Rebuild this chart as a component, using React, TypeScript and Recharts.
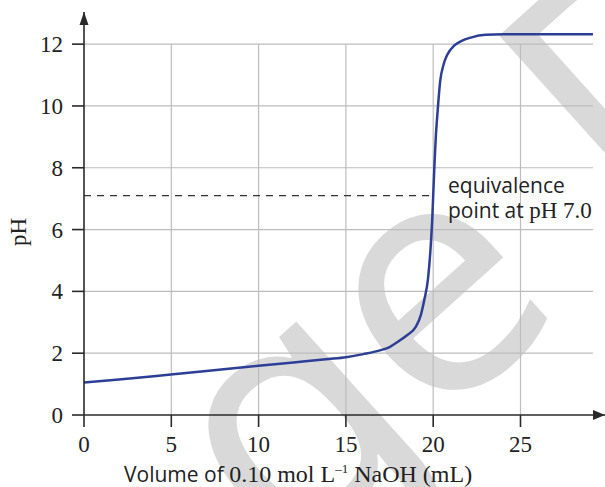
import React from 'react';
import { LineChart, Line, XAxis, YAxis, ReferenceLine, ReferenceDot } from 'recharts';

// titration curve
const volumes = [0, 2, 4, 6, 8, 10, 12, 14, 15, 16, 17, 17.5, 18, 18.5, 19, 19.3, 19.5, 19.7, 19.85, 19.95, 20, 20.08, 20.15, 20.25, 20.4, 20.6, 20.8, 21.2, 21.6, 22.2, 23, 24, 29.15];
const phValues = [1.05, 1.15, 1.25, 1.37, 1.48, 1.59, 1.7, 1.81, 1.87, 1.97, 2.1, 2.2, 2.38, 2.58, 2.85, 3.25, 3.75, 4.4, 5.4, 6.4, 7.1, 8.2, 9.0, 9.8, 10.8, 11.35, 11.65, 11.95, 12.1, 12.22, 12.3, 12.32, 12.32];

const xTicks = [0, 5, 10, 15, 20, 25];
const yTicks = [0, 2, 4, 6, 8, 10, 12];
const gridX = [5, 10, 15, 20, 25];
const gridY = [2, 4, 6, 8, 10, 12];
const equivalence = { volume: 20, ph: 7.1 };

const data = volumes.map((v, i) => ({ vol: v, ph: phValues[i] }));

const W = 605;
const H = 487;
const X_MAX = 29.84;
const Y_MAX = 13.04;
const GRID_END = 29.15;

const AXIS = '#2a2a2a';
const GRID = '#bdbdbd';
const SERIF = '"Liberation Serif", "Times New Roman", serif';
const SANS = '"Open Sans", "Noto Sans", sans-serif';

// watermark letters: [glyph, x, y, anchor]
const watermark: [string, number, number, string][] = [
  ['g', 360, 502, 'middle'],
  ['e', 502, 370, 'middle'],
  ['D', 633, 232, 'start'],
];

const XTick = (props: any) => {
  const { x, payload } = props;
  return (
    <text x={x} y={452} textAnchor="middle" fontFamily={SERIF} fontSize={23} fill="#222">
      {payload.value}
    </text>
  );
};

const YTick = (props: any) => {
  const { y, payload } = props;
  return (
    <text x={63} y={y + 8} textAnchor="end" fontFamily={SERIF} fontSize={23} fill="#222">
      {payload.value}
    </text>
  );
};

const RightArrow = (props: any) => {
  const { cx, cy } = props;
  return <path d={`M${cx},${cy} L${cx - 12},${cy - 5} L${cx - 12},${cy + 5} Z`} fill={AXIS} />;
};

const UpArrow = (props: any) => {
  const { cx, cy } = props;
  return <path d={`M${cx},${cy} L${cx - 4.5},${cy + 13} L${cx + 4.5},${cy + 13} Z`} fill={AXIS} />;
};

export default function App() {
  return (
    <div style={{ position: 'absolute', left: 0, top: 0, width: W, height: H, background: '#fff', overflow: 'hidden' }}>
      {/* watermark behind everything */}
      <svg width={W} height={H} style={{ position: 'absolute', left: 0, top: 0 }}>
        {watermark.map(([ch, x, y, anchor]) => (
          <text
            key={ch}
            x={0}
            y={0}
            transform={`translate(${x},${y}) rotate(-42)`}
            textAnchor={anchor}
            fontFamily='"Noto Sans", sans-serif'
            fontSize={330}
            fill="#d9d9d9"
          >
            {ch}
          </text>
        ))}
      </svg>

      <div style={{ position: 'absolute', left: 0, top: 0 }}>
        <LineChart width={W} height={H} data={data} margin={{ top: 12, right: 0, bottom: 0, left: 24 }}>
          <XAxis
            type="number"
            dataKey="vol"
            domain={[0, X_MAX]}
            allowDataOverflow
            ticks={xTicks}
            tick={<XTick />}
            tickSize={12}
            height={72}
            axisLine={{ stroke: AXIS, strokeWidth: 1.6 }}
            tickLine={{ stroke: AXIS, strokeWidth: 1.6 }}
          />
          <YAxis
            type="number"
            domain={[0, Y_MAX]}
            allowDataOverflow
            ticks={yTicks}
            tick={<YTick />}
            tickSize={12}
            width={60}
            axisLine={{ stroke: AXIS, strokeWidth: 1.6 }}
            tickLine={{ stroke: AXIS, strokeWidth: 1.6 }}
          />
          {gridY.map((v) => (
            <ReferenceLine key={'gy' + v} segment={[{ x: 0, y: v }, { x: GRID_END, y: v }]} stroke={GRID} strokeWidth={1.2} />
          ))}
          {gridX.map((v) => (
            <ReferenceLine key={'gx' + v} segment={[{ x: v, y: 0 }, { x: v, y: 12 }]} stroke={GRID} strokeWidth={1.2} />
          ))}
          <ReferenceLine
            segment={[{ x: 0, y: equivalence.ph }, { x: equivalence.volume, y: equivalence.ph }]}
            stroke="#333"
            strokeWidth={1.2}
            strokeDasharray="7 6"
          />
          <Line
            type="monotone"
            dataKey="ph"
            stroke="#2d3e96"
            strokeWidth={2.5}
            dot={false}
            activeDot={false}
            isAnimationActive={false}
          />
          <ReferenceDot x={X_MAX} y={0} r={0} ifOverflow="visible" shape={<RightArrow />} />
          <ReferenceDot x={0} y={Y_MAX} r={0} ifOverflow="visible" shape={<UpArrow />} />
        </LineChart>
      </div>

      {/* titles and annotation */}
      <svg width={W} height={H} style={{ position: 'absolute', left: 0, top: 0, pointerEvents: 'none' }}>
        <text transform="translate(26,232) rotate(-90)" textAnchor="middle" fontFamily={SERIF} fontSize={23} fill="#222">
          pH
        </text>
        <text x={124} y={482} fill="#222">
          <tspan fontFamily={SANS} fontSize={21}>Volume of </tspan>
          <tspan fontFamily={SERIF} fontSize={24}>0.10 mol L</tspan>
          <tspan fontFamily={SERIF} fontSize={13} dy={-9}>–1</tspan>
          <tspan fontFamily={SERIF} fontSize={24} dy={9}> NaOH (mL)</tspan>
        </text>
        <text x={448} y={193} fontFamily={SANS} fontSize={21} fill="#222">
          equivalence
        </text>
        <text x={448} y={218} fill="#222">
          <tspan fontFamily={SANS} fontSize={21}>point at </tspan>
          <tspan fontFamily={SERIF} fontSize={23}>pH 7.0</tspan>
        </text>
      </svg>
    </div>
  );
}
